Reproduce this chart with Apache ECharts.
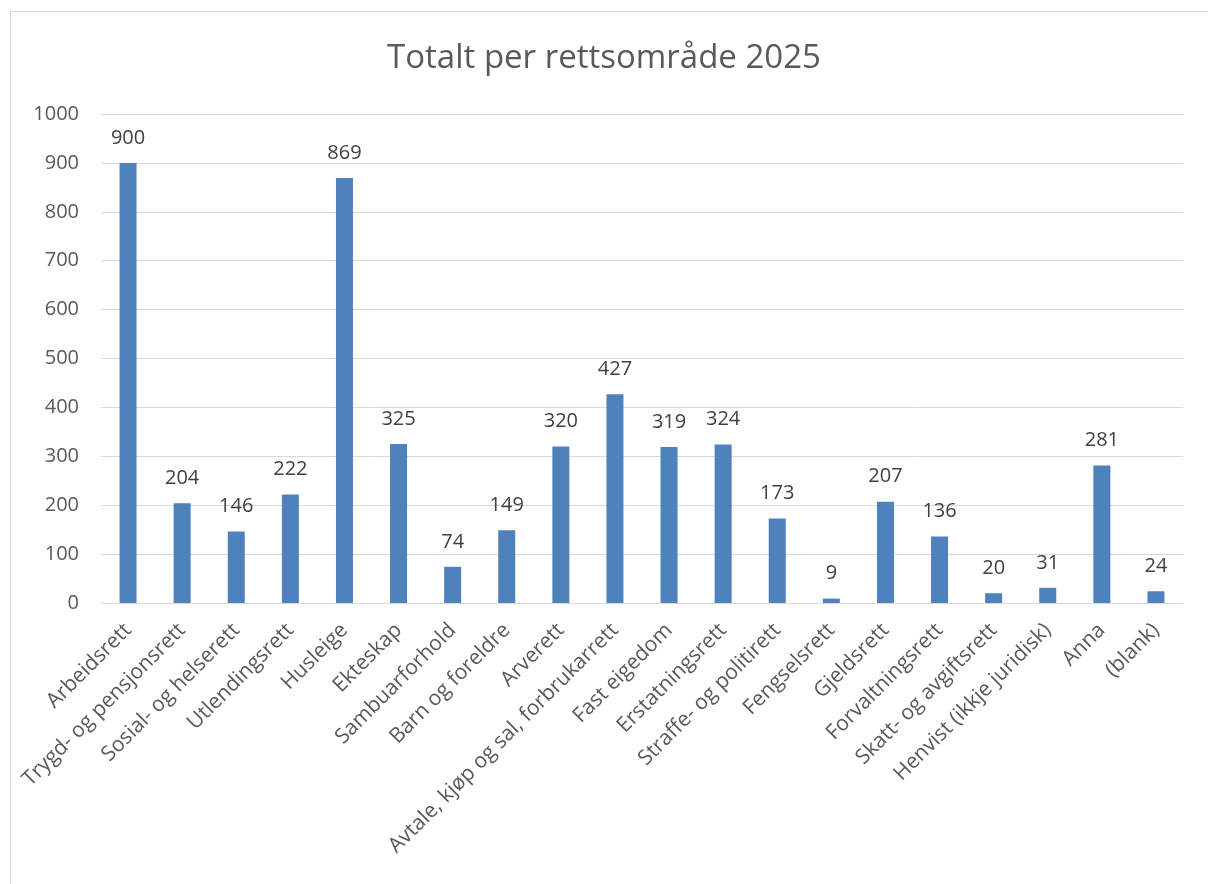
<!DOCTYPE html>
<html><head><meta charset="utf-8">
<script src="https://cdn.jsdelivr.net/npm/echarts@6/dist/echarts.min.js"></script>
<style>html,body{margin:0;padding:0;background:#fff}#c{width:1208px;height:884px}</style>
</head><body><div id="c"></div>
<script>
const categories = ["Arbeidsrett","Trygd- og pensjonsrett","Sosial- og helserett","Utlendingsrett","Husleige","Ekteskap","Sambuarforhold","Barn og foreldre","Arverett","Avtale, kjøp og sal, forbrukarrett","Fast eigedom","Erstatningsrett","Straffe- og politirett","Fengselsrett","Gjeldsrett","Forvaltningsrett","Skatt- og avgiftsrett","Henvist (ikkje juridisk)","Anna","(blank)"];
const values = [900,204,146,222,869,325,74,149,320,427,319,324,173,9,207,136,20,31,281,24];
const yTicks = [0,100,200,300,400,500,600,700,800,900,1000];
const titleText = "Totalt per rettsområde 2025";

const font = "Open Sans, Lato, sans-serif";
const chart = echarts.init(document.getElementById('c'));
chart.setOption({
  backgroundColor: '#fff',
  animation: false,
  title: { text: titleText, left: 'center', top: 37, textStyle: { fontFamily: font, fontSize: 33, fontWeight: 'normal', color: '#595959' } },
  graphic: [{ type: 'rect', shape: { x: 10.5, y: 11.5, width: 1220, height: 900 }, style: { fill: 'none', stroke: '#d9d9d9', lineWidth: 1 }, silent: true }],
  grid: { left: 101, right: 25, top: 114, bottom: 281 },
  xAxis: {
    type: 'category', data: categories,
    axisLine: { lineStyle: { color: '#d9d9d9' } },
    axisTick: { show: false },
    axisLabel: { rotate: 45, interval: 0, fontFamily: font, fontSize: 21, color: '#595959', margin: 24 }
  },
  yAxis: {
    type: 'value', min: yTicks[0], max: yTicks[yTicks.length-1], interval: 100,
    axisLine: { show: false }, axisTick: { show: false },
    splitLine: { lineStyle: { color: '#d9d9d9' } },
    axisLabel: { fontFamily: font, fontSize: 20, color: '#595959', margin: 22, formatter: v => String(v) }
  },
  series: [{
    type: 'bar', data: values, barWidth: 17,
    itemStyle: { color: '#4f81bd' },
    label: { show: true, position: 'top', distance: 15, fontFamily: font, fontSize: 20, color: '#404040' }
  }]
});
</script></body></html>
